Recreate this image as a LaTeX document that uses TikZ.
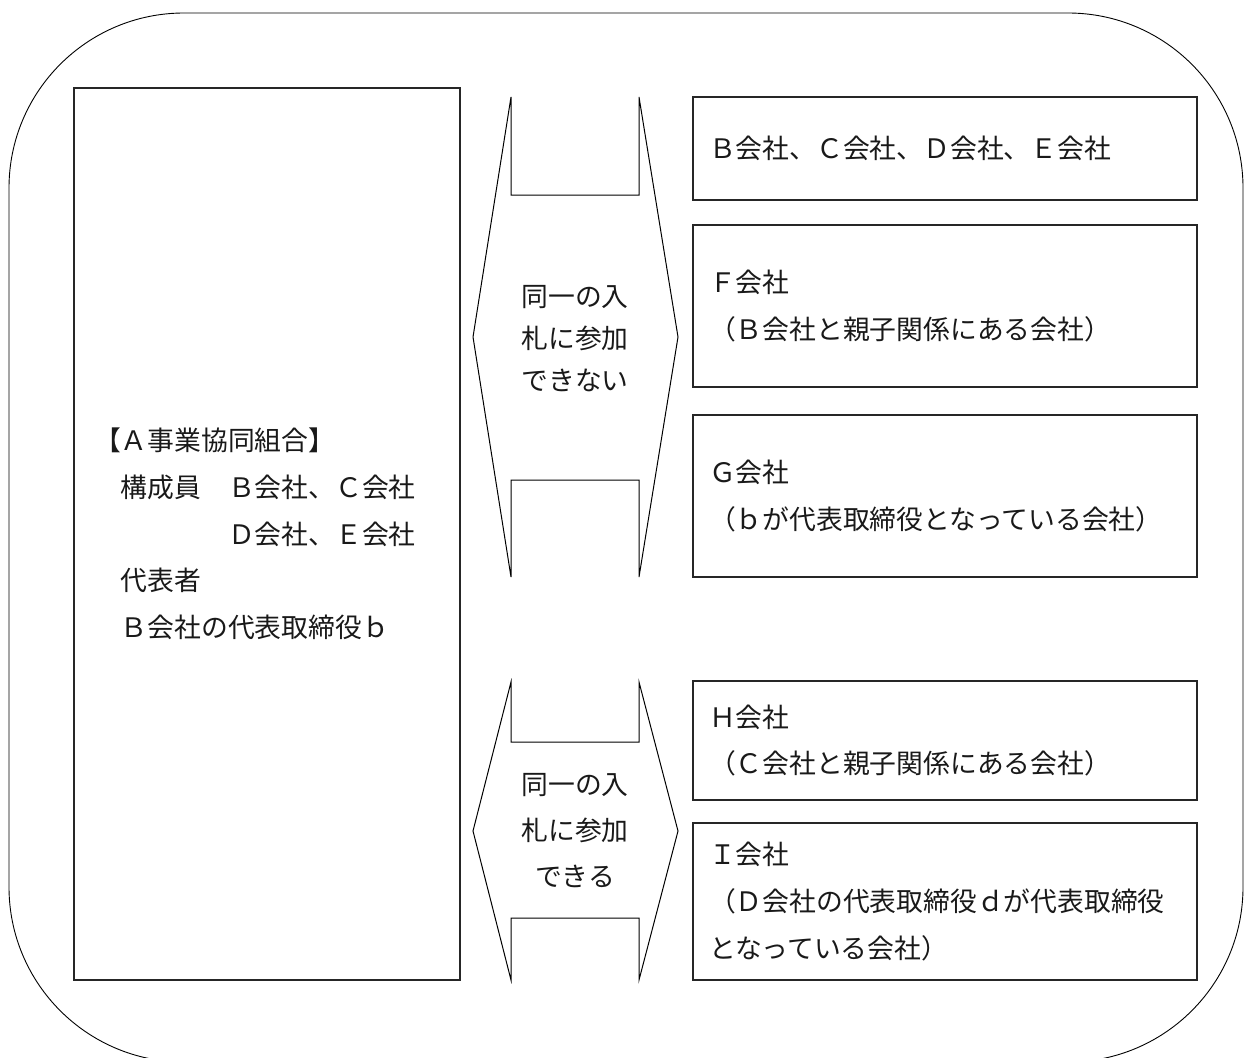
\documentclass[tikz,border=0pt]{standalone}
\usepackage{fontspec}
\setmainfont{Noto Sans CJK JP}
\begin{document}
\begin{tikzpicture}[x=1pt,y=-1pt,
  every node/.style={font=\fontsize{26.8}{46.7}\selectfont, text=black!90},
  lbox/.style={draw=black!85, line width=1.2pt, align=left, inner ysep=0pt},
  rbox/.style={draw=black!85, line width=1.2pt, align=left, inner xsep=16pt, inner ysep=0pt, text width=472pt, minimum height=#1},
  arrowshape/.style={draw=black, line width=1pt, line join=miter},
  atext/.style={align=center, inner sep=0pt}
]
\useasboundingbox (0,0) rectangle (1244,1057);
% outer frame
\draw[line width=0.9pt, rounded corners=175pt] (9,13) rectangle (1243,1062);

% left box
\node[lbox, inner xsep=20pt, text width=346pt, minimum height=892pt] (A) at (267,534)
 {【Ａ事業協同組合】\\
  　構成員　Ｂ会社、Ｃ会社\\
  　　　　　Ｄ会社、Ｅ会社\\
  　代表者\\
  　Ｂ会社の代表取締役ｂ};

% right boxes
\node[rbox=103pt] (B) at (945,148.5) {Ｂ会社、Ｃ会社、Ｄ会社、Ｅ会社};
\node[rbox=162pt] (F) at (945,306) {Ｆ会社\\（Ｂ会社と親子関係にある会社）};
\node[rbox=162pt] (G) at (945,496) {Ｇ会社\\（ｂが代表取締役となっている会社）};
\node[rbox=119pt] (H) at (945,740.5) {Ｈ会社\\（Ｃ会社と親子関係にある会社）};
\node[rbox=157pt] (I) at (945,901.5) {Ｉ会社\\（Ｄ会社の代表取締役ｄが代表取締役\\となっている会社）};

% double arrows
\draw[arrowshape] (511,97) -- (511,195) -- (639,195) -- (639,97) -- (678,337)
  -- (639,577) -- (639,480) -- (511,480) -- (511,577) -- (473,337) -- cycle;
\node[atext, font=\fontsize{26.8}{42}\selectfont] (T1) at (575,339) {同一の入\\札に参加\\できない};

\draw[arrowshape] (511,682) -- (511,742) -- (639,742) -- (639,682) -- (678,831)
  -- (639,980) -- (639,918) -- (511,918) -- (511,980) -- (473,831) -- cycle;
\node[atext, font=\fontsize{26.8}{46}\selectfont] (T2) at (575,831) {同一の入\\札に参加\\できる};
\end{tikzpicture}
\end{document}
